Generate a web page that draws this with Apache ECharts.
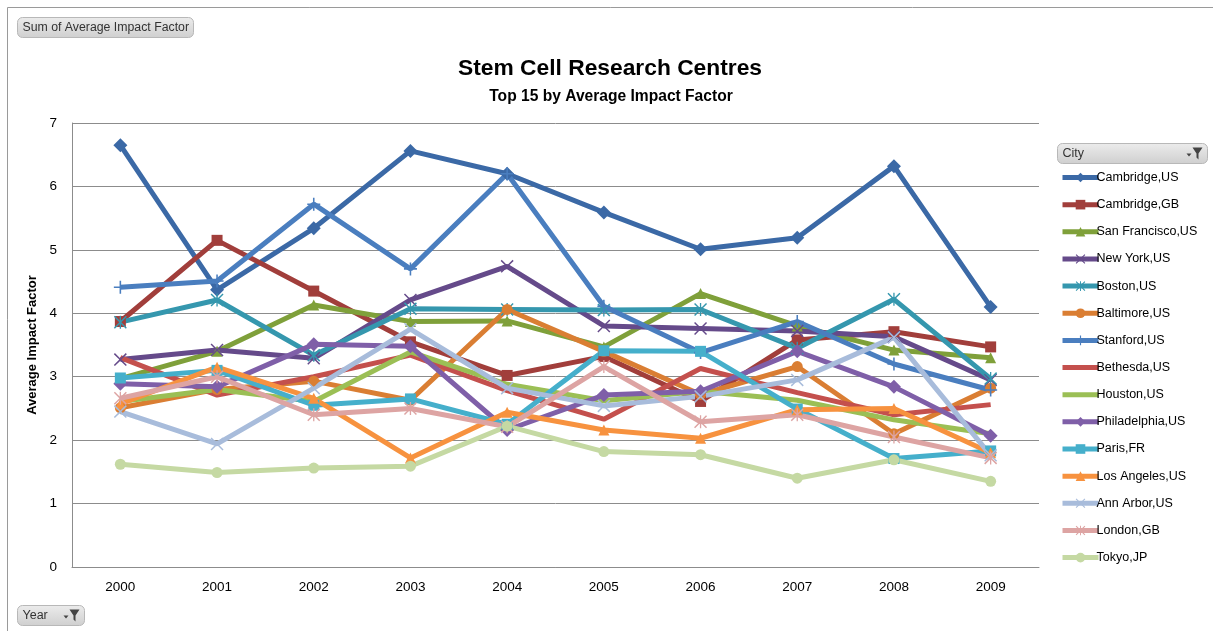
<!DOCTYPE html>
<html>
<head>
<meta charset="utf-8">
<script src="https://cdn.jsdelivr.net/npm/echarts@6/dist/echarts.min.js"></script>
<style>
html,body{margin:0;padding:0;background:#fff;}
#c{width:1213px;height:631px;}
</style>
</head>
<body>
<div id="c"></div>
<script>
const years = ['2000','2001','2002','2003','2004','2005','2006','2007','2008','2009'];
const yTicks = [0,1,2,3,4,5,6,7];

const cambridgeUS   = [6.65, 4.37, 5.34, 6.56, 6.20, 5.59, 5.01, 5.19, 6.32, 4.10];
const cambridgeGB   = [3.87, 5.15, 4.35, 3.55, 3.02, 3.32, 2.61, 3.58, 3.71, 3.47];
const sanFrancisco  = [2.97, 3.40, 4.13, 3.87, 3.88, 3.47, 4.31, 3.80, 3.42, 3.30];
const newYork       = [3.27, 3.42, 3.29, 4.21, 4.74, 3.80, 3.76, 3.72, 3.63, 2.95];
const boston        = [3.86, 4.21, 3.34, 4.07, 4.06, 4.05, 4.06, 3.45, 4.22, 2.97];
const baltimore     = [2.51, 2.80, 2.93, 2.63, 4.06, 3.40, 2.72, 3.16, 2.10, 2.82];
const stanford      = [4.41, 4.51, 5.72, 4.70, 6.20, 4.11, 3.38, 3.87, 3.20, 2.79];
const bethesda      = [3.30, 2.71, 3.00, 3.34, 2.78, 2.33, 3.13, 2.75, 2.40, 2.56];
const houston       = [2.61, 2.80, 2.61, 3.39, 2.88, 2.62, 2.77, 2.63, 2.32, 2.10];
const philadelphia  = [2.89, 2.84, 3.51, 3.48, 2.16, 2.71, 2.77, 3.40, 2.84, 2.07];
const paris         = [2.98, 3.10, 2.55, 2.65, 2.25, 3.41, 3.40, 2.49, 1.71, 1.83];
const losAngeles    = [2.57, 3.15, 2.66, 1.72, 2.44, 2.16, 2.03, 2.48, 2.50, 1.80];
const annArbor      = [2.45, 1.94, 2.82, 3.75, 2.82, 2.54, 2.69, 2.95, 3.62, 1.76];
const london        = [2.66, 3.00, 2.40, 2.50, 2.21, 3.16, 2.29, 2.40, 2.05, 1.72];
const tokyo         = [1.62, 1.49, 1.56, 1.59, 2.22, 1.82, 1.77, 1.40, 1.69, 1.35];

const cities = ['Cambridge,US','Cambridge,GB','San Francisco,US','New York,US','Boston,US','Baltimore,US','Stanford,US','Bethesda,US','Houston,US','Philadelphia,US','Paris,FR','Los Angeles,US','Ann Arbor,US','London,GB','Tokyo,JP'];
const values = [cambridgeUS, cambridgeGB, sanFrancisco, newYork, boston, baltimore, stanford, bethesda, houston, philadelphia, paris, losAngeles, annArbor, london, tokyo];

const PLUS = 'path://M4.4,0H5.6V4.4H10V5.6H5.6V10H4.4V5.6H0V4.4H4.4Z';
const XS = 'path://M0,0.8L0.8,0L5,4.2L9.2,0L10,0.8L5.8,5L10,9.2L9.2,10L5,5.8L0.8,10L0,9.2L4.2,5Z';
const STAR = 'path://M0,0.8L0.8,0L5,4.2L9.2,0L10,0.8L5.8,5L10,9.2L9.2,10L5,5.8L0.8,10L0,9.2L4.2,5Z M4.5,0H5.5V10H4.5Z';

const styles = [
  {c:'#3B69A6', s:'diamond'},
  {c:'#A13E3B', s:'rect'},
  {c:'#7FA03A', s:'triangle'},
  {c:'#654A8A', s:XS},
  {c:'#3597AE', s:STAR},
  {c:'#DA7E33', s:'circle'},
  {c:'#4A7EBF', s:PLUS},
  {c:'#C4504D', s:'none'},
  {c:'#9BBF55', s:'none'},
  {c:'#7F5FA8', s:'diamond'},
  {c:'#45AFCB', s:'rect'},
  {c:'#F7923F', s:'triangle'},
  {c:'#A8BCDB', s:XS},
  {c:'#DDA4A3', s:STAR},
  {c:'#C5D9A3', s:'circle'}
];

const series = cities.map((name, i) => {
  const st = styles[i];
  const isPath = st.s.indexOf('path://') === 0;
  return {
    name: name,
    type: 'line',
    data: values[i],
    symbol: st.s,
    showSymbol: st.s !== 'none',
    symbolSize: isPath ? 13 : (st.s === 'diamond' ? 14 : 11),
    lineStyle: {width: 5, color: st.c},
    itemStyle: {color: st.c, borderWidth: 0},
    emphasis: {disabled: true},
    animation: false
  };
});

const legendData = cities.map((name, i) => (
  styles[i].s === 'none' ? {name: name, itemStyle: {opacity: 0}} : {name: name}
));

const chart = echarts.init(document.getElementById('c'), null, {renderer: 'canvas'});
const FONT = 'Liberation Sans';

function button(x, y, w, h, label, withFilter, fs) {
  const g = [{
    type: 'rect',
    shape: {x: x, y: y, width: w, height: h, r: 5},
    style: {
      fill: new echarts.graphic.LinearGradient(0, 0, 0, 1, [{offset: 0, color: '#ececec'}, {offset: 1, color: '#cfcfcf'}]),
      stroke: '#b8b8b8', lineWidth: 1
    }
  }, {
    type: 'text',
    style: {x: x + 5, y: y + h / 2, text: label, fill: '#333', font: fs + 'px ' + FONT, textVerticalAlign: 'middle'}
  }];
  if (withFilter) {
    const fx = x + w - 15;
    const fy = y + 4;
    g.push({
      type: 'polygon',
      shape: {points: [[fx, fy], [fx + 10, fy], [fx + 6, fy + 6], [fx + 6, fy + 12], [fx + 4, fy + 10], [fx + 4, fy + 6]]},
      style: {fill: '#444'}
    });
    g.push({
      type: 'polygon',
      shape: {points: [[fx - 6, fy + 6], [fx - 1, fy + 6], [fx - 3.5, fy + 9]]},
      style: {fill: '#444'}
    });
  }
  return g;
}

const graphics = [].concat(
  [{type: 'rect', shape: {x: 7.5, y: 7.5, width: 1300, height: 700}, style: {fill: 'none', stroke: '#9a9a9a', lineWidth: 1}, silent: true}],
  button(17.5, 17.5, 176, 20, 'Sum of Average Impact Factor', false, 12.3),
  button(17.5, 605.5, 67, 20, 'Year', true, 12.5),
  button(1057.5, 143.5, 150, 20, 'City', true, 12.5)
);

chart.setOption({
  animation: false,
  backgroundColor: '#fff',
  title: [{
    text: 'Stem Cell Research Centres',
    left: 605, top: 52, textAlign: 'center',
    textStyle: {fontFamily: FONT, fontWeight: 'bold', fontSize: 22.8, color: '#000'}
  }, {
    text: 'Top 15 by Average Impact Factor',
    left: 606, top: 84, textAlign: 'center',
    textStyle: {fontFamily: FONT, fontWeight: 'bold', fontSize: 15.6, color: '#000'}
  }],
  legend: {
    orient: 'vertical',
    left: 1055, top: 166,
    itemWidth: 36, itemHeight: 12,
    itemGap: 14.15,
    lineStyle: {width: 5},
    textStyle: {fontFamily: FONT, fontSize: 12.5, color: '#000', padding: [0, 0, 0, -7]},
    data: legendData,
    selectedMode: false
  },
  grid: {left: 72, right: 174, top: 123, bottom: 64, containLabel: false},
  xAxis: {
    type: 'category',
    data: years,
    boundaryGap: true,
    axisLine: {show: true, lineStyle: {color: '#8c8c8c', width: 1}},
    axisTick: {show: false},
    axisLabel: {fontFamily: FONT, fontSize: 13.5, color: '#000', margin: 13}
  },
  yAxis: {
    type: 'value',
    min: yTicks[0], max: yTicks[yTicks.length - 1], interval: 1,
    name: 'Average Impact Factor',
    nameLocation: 'middle',
    nameGap: 28,
    nameRotate: 90,
    nameTextStyle: {fontFamily: FONT, fontWeight: 'bold', fontSize: 13, color: '#000'},
    axisLine: {show: true, lineStyle: {color: '#8c8c8c', width: 1}},
    axisTick: {show: false},
    splitLine: {show: true, lineStyle: {color: '#8c8c8c', width: 1}},
    axisLabel: {fontFamily: FONT, fontSize: 13.5, color: '#000', margin: 15}
  },
  graphic: graphics,
  series: series
});
</script>
</body>
</html>
